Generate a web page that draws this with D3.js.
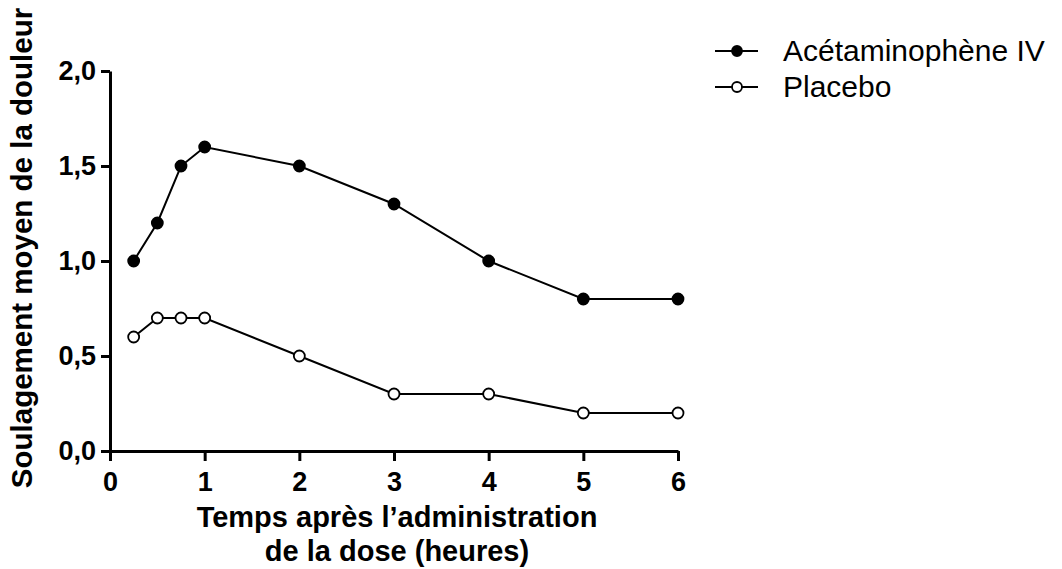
<!DOCTYPE html>
<html>
<head>
<meta charset="utf-8">
<script src="https://cdn.jsdelivr.net/npm/d3@7"></script>
<style>
  body { margin: 0; background: #fff; }
  svg { font-family: "Liberation Sans", Arial, sans-serif; }
</style>
</head>
<body>
<svg width="1062" height="569"></svg>
<script>
(function() {
  var hours = [0.25, 0.5, 0.75, 1, 2, 3, 4, 5, 6]
  var acetaminophene = [1.0, 1.2, 1.5, 1.6, 1.5, 1.3, 1.0, 0.8, 0.8]
  var placebo = [0.6, 0.7, 0.7, 0.7, 0.5, 0.3, 0.3, 0.2, 0.2]
  var xTicks = [0, 1, 2, 3, 4, 5, 6]
  var yTicks = [0, 0.5, 1.0, 1.5, 2.0]
  var seriesNames = ['Acétaminophène IV', 'Placebo']

  var series = [
    {name: seriesNames[0], values: acetaminophene, fill: '#000'},
    {name: seriesNames[1], values: placebo, fill: '#fff'}
  ]

  var svg = d3.select('svg')

  var x = d3.scaleLinear().domain([0, 6]).range([110, 678])
  var y = d3.scaleLinear().domain([0, 2]).range([451, 71])

  // axes
  var xAxis = svg.append('g')
    .attr('transform', 'translate(0,451)')
    .call(d3.axisBottom(x).tickValues(xTicks).tickSize(10).tickSizeOuter(0).tickPadding(11)
      .tickFormat(d3.format('d')))
  var yAxis = svg.append('g')
    .attr('transform', 'translate(110,0)')
    .call(d3.axisLeft(y).tickValues(yTicks).tickSize(9).tickSizeOuter(0).tickPadding(5)
      .tickFormat(function(d) { return d3.format('.1f')(d).replace('.', ',') }))

  ;[xAxis, yAxis].forEach(function(a) {
    a.selectAll('path, line').attr('stroke', '#000').attr('stroke-width', 3)
    a.selectAll('text').attr('fill', '#000').style('font-size', '27px').style('font-weight', 'bold')
  })

  // axis titles
  svg.append('text')
    .attr('x', 397).attr('y', 527)
    .attr('text-anchor', 'middle')
    .style('font-size', '29px').style('font-weight', 'bold')
    .text('Temps après l’administration')
  svg.append('text')
    .attr('x', 397).attr('y', 561)
    .attr('text-anchor', 'middle')
    .style('font-size', '29px').style('font-weight', 'bold')
    .text('de la dose (heures)')
  svg.append('text')
    .attr('transform', 'translate(32,248) rotate(-90)')
    .attr('text-anchor', 'middle')
    .style('font-size', '29.5px').style('font-weight', 'bold')
    .text('Soulagement moyen de la douleur')

  // lines + markers
  var line = d3.line()
    .x(function(d, i) { return x(hours[i]) })
    .y(function(d) { return y(d) })

  series.forEach(function(s) {
    svg.append('path')
      .attr('d', line(s.values))
      .attr('fill', 'none')
      .attr('stroke', '#000')
      .attr('stroke-width', 2)
    svg.selectAll(null)
      .data(s.values)
      .enter().append('circle')
      .attr('cx', function(d, i) { return x(hours[i]) })
      .attr('cy', function(d) { return y(d) })
      .attr('r', 5.5)
      .attr('fill', s.fill)
      .attr('stroke', '#000')
      .attr('stroke-width', 1.8)
  })

  // legend
  var legend = svg.append('g')
  series.forEach(function(s, i) {
    var ly = 51 + i * 36
    legend.append('line')
      .attr('x1', 715).attr('x2', 758).attr('y1', ly).attr('y2', ly)
      .attr('stroke', '#000').attr('stroke-width', 2)
    legend.append('circle')
      .attr('cx', 737).attr('cy', ly).attr('r', 5)
      .attr('fill', s.fill).attr('stroke', '#000').attr('stroke-width', 1.8)
    legend.append('text')
      .attr('x', 783).attr('y', ly + 10)
      .style('font-size', '30px')
      .attr('fill', '#000')
      .text(s.name)
  })
})();
</script>
</body>
</html>
